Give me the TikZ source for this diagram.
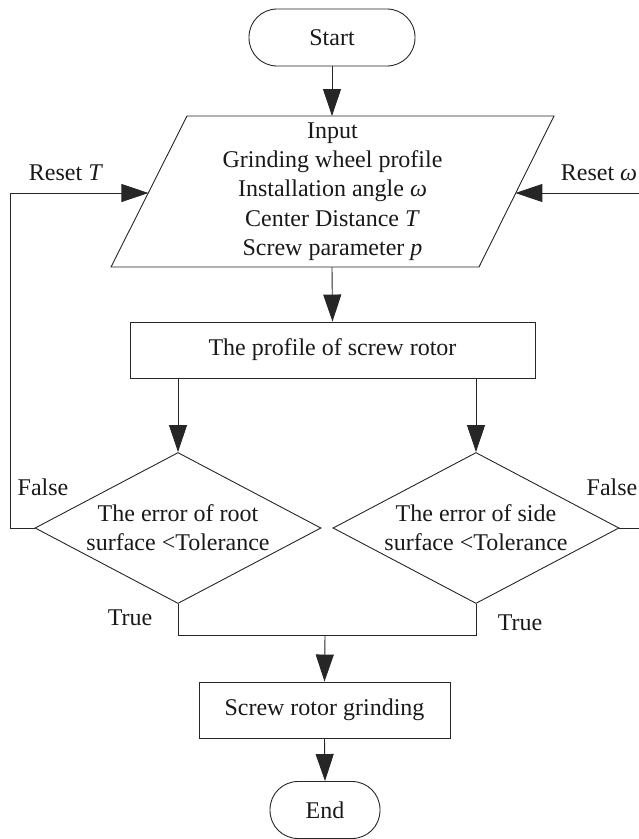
\documentclass[tikz,border=0pt]{standalone}
\usepackage{fontspec}
\setmainfont{Liberation Serif}
\usetikzlibrary{shapes.geometric,shapes.misc,arrows.meta}
\tikzset{
  base/.style={draw=black!85, line width=0.9pt, text=black!90, align=center, inner sep=0pt,
    font=\fontsize{24}{29.3}\selectfont},
  term/.style={base, rectangle, rounded corners=28pt, minimum height=57pt},
  procbox/.style={base, rectangle, minimum height=56pt},
  decbox/.style={base, diamond, minimum width=286pt, minimum height=151pt},
  lbl/.style={text=black!90, inner sep=0pt, align=center, font=\fontsize{24}{29.3}\selectfont},
  arr/.style={draw=black!85, line width=0.9pt, -{Triangle[length=27pt,width=18pt]}},
  ln/.style={draw=black!85, line width=0.9pt}
}
\begin{document}
\begin{tikzpicture}[x=1pt,y=-1pt]
\useasboundingbox (0,0) rectangle (639,839);
\clip (0,0) rectangle (639,839);
\node[term, minimum width=166pt] (start) at (332,37.5) {Start};
% input parallelogram
\coordinate (p1) at (187,116);
\coordinate (p2) at (554,116);
\coordinate (p3) at (479,267);
\coordinate (p4) at (111,267);
\draw[ln, line join=miter] (p1) -- (p2) -- (p3) -- (p4) -- cycle;
\node[lbl] (in) at (332.5,191.5) {Input\\Grinding wheel profile\\Installation angle \textit{ω}\\Center Distance \textit{T}\\Screw parameter \textit{p}};
\coordinate (pl) at (148.4,193);
\coordinate (pr) at (515.4,193);
\node[procbox, minimum width=405pt] (prof) at (332.5,350) {The profile of screw rotor};
\node[decbox, label={[lbl]center:The error of root\\surface <Tolerance}] (d1) at (178,528) {};
\node[decbox, label={[lbl]center:The error of side\\surface <Tolerance}] (d2) at (476,528) {};
\node[procbox, minimum width=251pt] (grind) at (324.5,710) {Screw rotor grinding};
\node[term, minimum width=110pt] (end) at (325,810) {End};
\coordinate (lc) at (10,0);
\coordinate (rc) at (646,0);
\coordinate (j) at (325,635);
\node[lbl] (rt) at (66,173) {Reset \textit{T}};
\node[lbl] (rw) at (599,173) {Reset \textit{ω}};
\node[lbl] (f1) at (43,487) {False};
\node[lbl] (f2) at (612,487) {False};
\node[lbl] (t1) at (130,618) {True};
\node[lbl] (t2) at (520,623) {True};
\draw[arr] (start.south) -- (start.south |- p1);
\draw[arr] (start.south |- p4) -- (prof.north);
\draw[arr] (prof.south -| d1.north) -- (d1.north);
\draw[arr] (prof.south -| d2.north) -- (d2.north);
\draw[ln] (d1.south) -- (d1.south |- j) -- (d2.south |- j) -- (d2.south);
\draw[arr] (j) -- (grind.north);
\draw[arr] (grind.south) -- (end.north);
\draw[arr] (d1.west) -- (d1.west -| lc) |- (pl);
\draw[arr] (d2.east) -- (d2.east -| rc) |- (pr);
\end{tikzpicture}
\end{document}
